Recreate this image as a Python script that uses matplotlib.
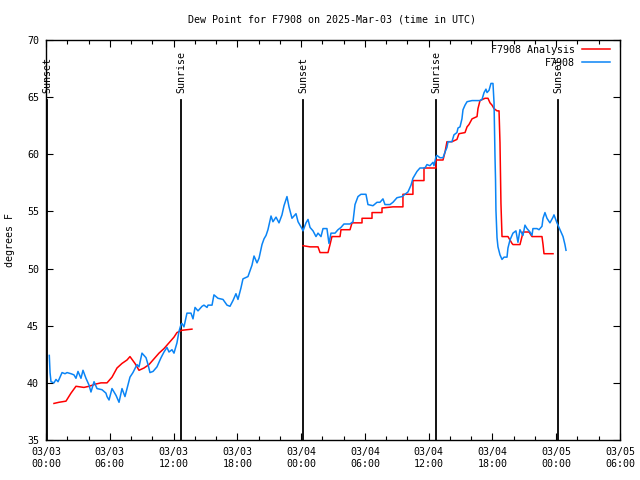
import numpy as np
import matplotlib
matplotlib.use("Agg")
import matplotlib.pyplot as plt
from matplotlib.ticker import MultipleLocator

# ---- data (hours since 2025-03-03 00:00 UTC, degrees F) ----
obs_hours = [0.31, 0.38, 0.47, 0.75, 0.94, 1.13, 1.32, 1.51, 1.79, 1.98, 2.35, 2.63, 2.82, 3.01, 3.29,
             3.48, 3.76, 4.05, 4.23, 4.52, 4.80, 5.27, 5.64, 5.74, 5.93, 6.21, 6.59, 6.87, 7.15, 7.43,
             7.62, 7.90, 8.18, 8.56, 8.75, 9.03, 9.41, 9.60, 9.78, 10.07, 10.44, 10.82, 11.10, 11.38,
             11.57, 11.85, 12.04, 12.32, 12.51, 12.70, 12.79, 12.98, 13.26, 13.64, 13.83, 14.02, 14.30,
             14.68, 14.86, 15.15, 15.24, 15.62, 15.80, 16.18, 16.65, 17.03, 17.31, 17.59, 17.87, 18.06,
             18.34, 18.53, 19.00, 19.38, 19.57, 19.85, 20.04, 20.32, 20.51, 20.70, 20.88, 21.17, 21.35,
             21.64, 21.92, 22.20, 22.39, 22.67, 22.86, 23.14, 23.52, 23.71, 24.08, 24.18, 24.46, 24.65,
             24.84, 25.12, 25.40, 25.59, 25.87, 26.06, 26.43, 26.62, 26.81, 27.19, 27.47, 27.75, 28.03,
             28.60, 28.88, 29.07, 29.35, 29.63, 30.10, 30.29, 30.76, 31.14, 31.42, 31.70, 31.89, 32.36,
             32.64, 33.02, 33.49, 33.77, 34.05, 34.34, 34.52, 34.90, 35.18, 35.65, 35.84, 36.12, 36.41,
             36.50, 36.69, 36.78, 37.06, 37.35, 37.54, 37.72, 37.82, 38.19, 38.38, 38.66, 38.76, 38.95,
             39.13, 39.23, 39.42, 39.61, 40.08, 40.83, 41.02, 41.21, 41.39, 41.49, 41.68, 41.86, 42.05,
             42.15, 42.24, 42.29, 42.33, 42.43, 42.52, 42.71, 42.90, 43.09, 43.37, 43.46, 43.65, 43.93,
             44.21, 44.40, 44.59, 44.87, 45.06, 45.25, 45.53, 45.72, 45.81, 46.19, 46.38, 46.66, 46.76,
             46.94, 47.13, 47.41, 47.70, 47.79, 48.07, 48.35, 48.64, 48.82, 48.92]
obs_dewpt = [42.4, 40.9, 40.1, 40.0, 40.3, 40.1, 40.5, 40.9, 40.8, 40.9, 40.8, 40.7, 40.4, 41.0, 40.4,
             41.1, 40.4, 39.8, 39.2, 40.1, 39.5, 39.4, 39.1, 38.8, 38.5, 39.5, 38.9, 38.3, 39.5, 38.8,
             39.5, 40.5, 40.9, 41.6, 41.4, 42.6, 42.2, 41.6, 40.9, 41.0, 41.4, 42.2, 42.7, 43.1,
             42.7, 42.9, 42.6, 43.5, 44.5, 45.1, 45.2, 44.9, 46.1, 46.1, 45.6, 46.6, 46.3,
             46.7, 46.8, 46.6, 46.8, 46.8, 47.7, 47.4, 47.3, 46.8, 46.7, 47.2, 47.8, 47.3,
             48.3, 49.1, 49.3, 50.3, 51.1, 50.5, 50.9, 52.1, 52.6, 52.9, 53.4, 54.6, 54.1,
             54.5, 54.0, 54.7, 55.5, 56.3, 55.4, 54.4, 54.8, 54.1, 53.5, 53.3, 54.0, 54.3,
             53.6, 53.3, 52.8, 53.1, 52.8, 53.5, 53.5, 52.2, 53.1, 53.1, 53.4, 53.6, 53.9,
             53.9, 54.1, 55.6, 56.3, 56.5, 56.5, 55.6, 55.5, 55.8, 55.8, 56.1, 55.6, 55.6,
             55.8, 56.2, 56.3, 56.5, 56.7, 57.3, 57.9, 58.5, 58.8, 58.8, 59.1, 59.0, 59.3,
             59.0, 59.8, 59.9, 59.7, 59.7, 60.2, 60.6, 61.1, 61.1, 61.7, 61.9, 62.3, 62.4,
             63.1, 63.9, 64.3, 64.6, 64.7, 64.7, 64.8, 65.4, 65.7, 65.4, 65.6, 66.2, 66.2,
             64.5, 59.8, 57.8, 55.1, 52.7, 51.9, 51.2, 50.8, 51.0, 51.0, 51.8, 52.5, 53.1,
             53.3, 52.3, 53.4, 52.9, 53.8, 53.5, 53.2, 52.9, 53.5, 53.5, 53.4, 53.7, 54.4,
             54.9, 54.4, 54.0, 54.5, 54.7, 54.0, 53.4, 52.8, 52.1, 51.6]

ana_hours = [0.75, 1.22, 1.88, 2.35, 2.82, 3.57, 4.05, 4.70, 5.17, 5.74, 6.21, 6.68, 7.15, 7.62, 7.90,
             8.37, 8.75, 9.22, 9.69, 10.16, 10.63, 11.10, 11.57, 12.04, 12.32, 12.79, 13.73,
             18.0,
             24.18, 24.84, 25.59, 25.78, 26.53, 26.72, 26.90, 27.66, 27.75, 28.60, 28.79, 29.73, 29.73,
             30.67, 30.67, 31.61, 31.61, 32.64, 33.58, 33.58, 34.52, 34.52, 35.56, 35.56, 36.69, 36.69,
             37.35, 37.54, 37.72, 38.19, 38.66, 38.85, 39.42, 39.61, 39.79, 40.08, 40.55, 40.64, 40.83,
             41.30, 41.58, 41.77, 41.96, 42.15, 42.43, 42.62, 42.71, 42.80, 42.90, 43.46, 43.84, 43.93,
             44.59, 44.78, 44.87, 45.44, 45.72, 46.66, 46.76, 46.85, 47.70]
ana_dewpt = [38.2, 38.3, 38.4, 39.1, 39.7, 39.6, 39.7, 39.9, 40.0, 40.0, 40.5, 41.3, 41.7, 42.0, 42.3,
             41.7, 41.1, 41.3, 41.6, 42.1, 42.6, 43.0, 43.5, 44.0, 44.4, 44.6, 44.7,
             np.nan,
             52.0, 51.9, 51.9, 51.4, 51.4, 52.1, 52.8, 52.8, 53.4, 53.4, 54.0, 54.0, 54.4,
             54.4, 54.9, 54.9, 55.3, 55.4, 55.4, 56.5, 56.5, 57.7, 57.7, 58.8, 58.8, 59.5,
             59.5, 60.2, 61.1, 61.1, 61.3, 61.8, 61.9, 62.4, 62.6, 63.1, 63.3, 64.0, 64.7,
             64.9, 64.9, 64.5, 64.3, 64.0, 63.8, 63.8, 61.0, 55.7, 52.8, 52.8, 52.2, 52.1,
             52.1, 52.8, 53.2, 53.2, 52.8, 52.8, 52.1, 51.3, 51.3]

sun_hours = [0.09, 12.7, 24.18, 36.7, 48.17]
sun_labels = ["Sunset", "Sunrise", "Sunset", "Sunrise", "Sunset"]

xtick_hours = [0, 6, 12, 18, 24, 30, 36, 42, 48, 54]
xtick_labels = ["03/03\n00:00", "03/03\n06:00", "03/03\n12:00", "03/03\n18:00",
                "03/04\n00:00", "03/04\n06:00", "03/04\n12:00", "03/04\n18:00",
                "03/05\n00:00", "03/05\n06:00"]

FONT = "DejaVu Sans Mono"
FS = 7.2
RED = "#ff0000"
BLUE = "#0a84f5"

fig = plt.figure(figsize=(6.4, 4.8), dpi=100)
ax = fig.add_axes([46/640, 40/480, 574/640, 400/480])
ax.set_xlim(0, 54)
ax.set_ylim(35, 70)

# sunrise / sunset markers
ytop = 70 - 60/ (400/35)
for h, lab in zip(sun_hours, sun_labels):
    ax.plot([h, h], [35, ytop], color="black", lw=1.3, zorder=2)
    ax.text(h, 70 - 53/(400/35), lab, rotation=90, ha="center", va="bottom",
            family=FONT, fontsize=FS, zorder=5)

ax.plot(ana_hours, ana_dewpt, color=RED, lw=1.1, zorder=3)
ax.plot(obs_hours, obs_dewpt, color=BLUE, lw=1.1, zorder=4)

ax.set_xticks(xtick_hours)
ax.set_xticklabels(xtick_labels, family=FONT, fontsize=FS, linespacing=1.25)
ax.xaxis.set_minor_locator(MultipleLocator(2))
ax.set_yticks(range(35, 71, 5))
ax.set_yticklabels([str(v) for v in range(35, 71, 5)], family=FONT, fontsize=FS)
ax.tick_params(which="both", direction="in", top=True, right=True, width=0.8)
ax.tick_params(which="major", length=5, pad=5)
ax.tick_params(which="minor", length=3)
for s in ax.spines.values():
    s.set_linewidth(1.0)

ax.set_ylabel("degrees F", family=FONT, fontsize=FS, labelpad=9)
fig.text(332/640, 1 - 19/480, "Dew Point for F7908 on 2025-Mar-03 (time in UTC)",
         ha="center", va="center", family=FONT, fontsize=FS)

# legend (manual, gnuplot style)
fig.text(575/640, 1 - 50/480, "F7908 Analysis", ha="right", va="center", family=FONT, fontsize=FS)
fig.text(575/640, 1 - 63/480, "F7908", ha="right", va="center", family=FONT, fontsize=FS)
fig.add_artist(plt.Line2D([582/640, 610/640], [1 - 49/480, 1 - 49/480], color=RED, lw=1.1))
fig.add_artist(plt.Line2D([582/640, 610/640], [1 - 62/480, 1 - 62/480], color=BLUE, lw=1.1))

fig.savefig("out.png", dpi=100)
